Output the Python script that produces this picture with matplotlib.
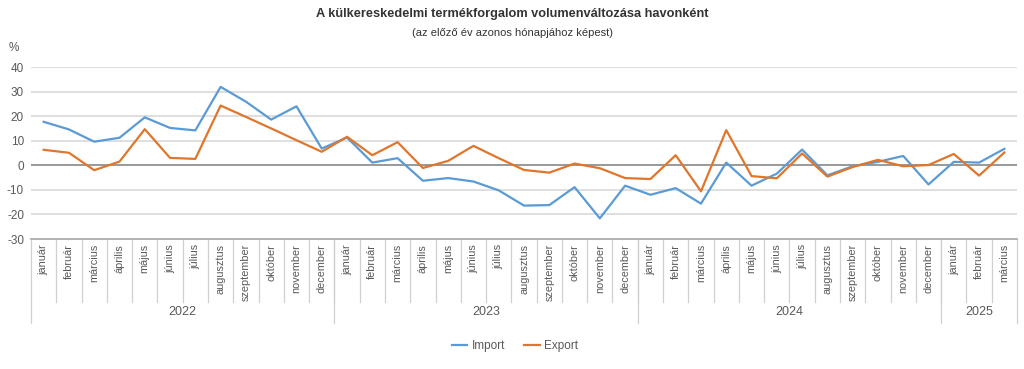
import matplotlib
matplotlib.use("Agg")
import matplotlib.pyplot as plt

plt.rcParams['font.family'] = ['Liberation Sans', 'DejaVu Sans']
plt.rcParams['axes.unicode_minus'] = False

# monthly data, Jan 2022 - Mar 2025
months = ['január', 'február', 'március', 'április', 'május', 'június', 'július',
          'augusztus', 'szeptember', 'október', 'november', 'december']
years = ['2022', '2023', '2024', '2025']
year_lengths = [12, 12, 12, 3]

import_vals = [17.7, 14.6, 9.6, 11.2, 19.5, 15.2, 14.2, 31.9, 25.9, 18.6, 24.0, 6.8,
               11.3, 1.1, 2.9, -6.3, -5.2, -6.6, -10.2, -16.4, -16.2, -8.9, -21.6, -8.3,
               -12.0, -9.3, -15.6, 1.1, -8.3, -3.4, 6.4, -4.1, -0.4, 1.4, 3.8, -7.8,
               1.4, 1.1, 6.7]
export_vals = [6.3, 5.1, -2.0, 1.5, 14.7, 3.0, 2.6, 24.3, 19.7, 15.0, 10.2, 5.5,
               11.6, 4.1, 9.4, -1.1, 1.8, 7.9, 2.9, -1.9, -3.0, 0.7, -1.2, -5.2,
               -5.6, 4.1, -10.6, 14.3, -4.4, -5.3, 4.8, -4.6, -0.7, 2.2, -0.4, 0.1,
               4.6, -4.2, 5.2]

month_labels = []
for n in year_lengths:
    month_labels += months[:n]

fig = plt.figure(figsize=(10.24, 3.69), dpi=100)
ax = fig.add_axes([31 / 1024, 1 - 239 / 369, 986 / 1024, 172 / 369])

x = list(range(len(month_labels)))
ax.plot(x, import_vals, color='#5b9bd5', lw=1.6, label='Import', zorder=3)
ax.plot(x, export_vals, color='#e0762b', lw=1.6, label='Export', zorder=3)

ax.set_xlim(-0.5, len(x) - 0.5)
ax.set_ylim(-30, 40)
ax.set_yticks(range(-30, 41, 10))
for v in range(-20, 41, 10):
    ax.axhline(v, color='#888888' if v == 0 else '#d9d9d9', lw=1.2, zorder=1)

for s in ['top', 'right', 'left']:
    ax.spines[s].set_visible(False)
ax.spines['bottom'].set_color('#a6a6a6')
ax.spines['bottom'].set_linewidth(1.2)
ax.set_xticks([])
ax.tick_params(axis='y', length=0, labelsize=8.5, colors='#595959', pad=5)

# category axis: month labels, separators and year labels
trans = ax.get_xaxis_transform()
for i, lab in enumerate(month_labels):
    ax.text(i, -0.03, lab, transform=trans, rotation=90, ha='center', va='top',
            fontsize=7.8, color='#595959')
for i in range(1, len(x)):
    ax.plot([i - 0.5, i - 0.5], [0, -0.366], transform=trans, color='#d0d0d0',
            lw=0.9, clip_on=False)
start = 0
for yr, n in zip(years, year_lengths):
    ax.plot([start - 0.5, start - 0.5], [0, -0.488], transform=trans, color='#d0d0d0',
            lw=0.9, clip_on=False)
    ax.text(start + (n - 1) / 2, -0.425, yr, transform=trans, ha='center', va='center',
            fontsize=9, color='#595959')
    start += n
ax.plot([start - 0.5, start - 0.5], [0, -0.488], transform=trans, color='#d0d0d0',
        lw=0.9, clip_on=False)

fig.text(0.5, 1 - 14 / 369, 'A külkereskedelmi termékforgalom volumenváltozása havonként',
         ha='center', va='center', fontsize=9.2, fontweight='bold', color='#333333')
fig.text(0.5, 1 - 33 / 369, '(az előző év azonos hónapjához képest)',
         ha='center', va='center', fontsize=8, color='#333333')
fig.text(9 / 1024, 1 - 48 / 369, '%', ha='left', va='center', fontsize=8.5, color='#595959')

fig.legend(loc='center', bbox_to_anchor=(0.503, 1 - 346 / 369), ncol=2, frameon=False,
           fontsize=8.5, handlelength=1.3, handletextpad=0.4, columnspacing=1.6,
           labelcolor='#595959')

fig.savefig('out.png', dpi=100)
